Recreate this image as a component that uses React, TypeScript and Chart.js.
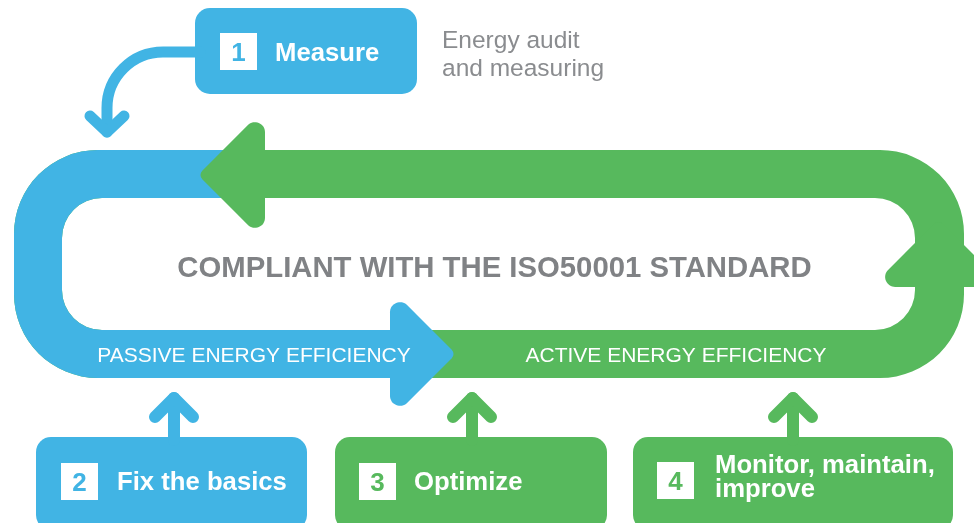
import React, { useEffect, useRef } from 'react';
import { Chart, registerables } from 'chart.js';

Chart.register(...registerables);

// ---------- content ----------
const stepNumbers = ['1', '2', '3', '4'];
const stepTitles = [['Measure'], ['Fix the basics'], ['Optimize'], ['Monitor, maintain,', 'improve']];
const stepPhase = ['passive', 'passive', 'active', 'active'];
const noteLines = ['Energy audit', 'and measuring'];
const centerTitle = 'COMPLIANT WITH THE ISO50001 STANDARD';
const phaseLabels = ['PASSIVE ENERGY EFFICIENCY', 'ACTIVE ENERGY EFFICIENCY'];

// ---------- layout (in data units of the hidden linear scales) ----------
const stepBoxX0 = [195, 36, 335, 633];
const stepBoxX1 = [417, 307, 607, 953];
const stepBoxY0 = [8, 437, 437, 437];
const stepBoxY1 = [94, 530, 530, 530];
const stepSquareX = [220, 61, 359, 657];
const stepSquareY = [33, 463, 463, 462];
const stepTextX = [275, 117, 414, 715];
const stepTextBase = [61, 490, 490, 473];
const upArrowX = [174, 472, 793];

const FONT = "'Liberation Sans', Arial, Helvetica, sans-serif";
const BLUE = '#41B4E4';
const GREEN = '#57B95D';
const GRAY = '#808285';
const NOTE_GRAY = '#8A8C8F';

function roundRectPath(ctx: CanvasRenderingContext2D, x0: number, y0: number, x1: number, y1: number, r: number) {
  ctx.moveTo(x0 + r, y0);
  ctx.lineTo(x1 - r, y0);
  ctx.arcTo(x1, y0, x1, y0 + r, r);
  ctx.lineTo(x1, y1 - r);
  ctx.arcTo(x1, y1, x1 - r, y1, r);
  ctx.lineTo(x0 + r, y1);
  ctx.arcTo(x0, y1, x0, y1 - r, r);
  ctx.lineTo(x0, y0 + r);
  ctx.arcTo(x0, y0, x0 + r, y0, r);
  ctx.closePath();
}

function roundPoly(ctx: CanvasRenderingContext2D, pts: number[][], radii: number[]) {
  const n = pts.length;
  const last = pts[n - 1];
  const first = pts[0];
  ctx.beginPath();
  ctx.moveTo((last[0] + first[0]) / 2, (last[1] + first[1]) / 2);
  for (let i = 0; i < n; i++) {
    const p = pts[i];
    const q = pts[(i + 1) % n];
    ctx.arcTo(p[0], p[1], (p[0] + q[0]) / 2, (p[1] + q[1]) / 2, radii[i]);
  }
  ctx.closePath();
}

const diagramPlugin = {
  id: 'diagram',
  afterDatasetsDraw(chart: any) {
    const ctx: CanvasRenderingContext2D = chart.ctx;
    const xs = chart.scales.x;
    const ys = chart.scales.y;
    const X = (v: number) => xs.getPixelForValue(v);
    const Y = (v: number) => ys.getPixelForValue(v);
    ctx.save();

    // ---- loop band ----
    const ringPath = () => {
      ctx.beginPath();
      roundRectPath(ctx, X(14), Y(150), X(964), Y(378), 84);
      roundRectPath(ctx, X(62), Y(198), X(915), Y(330), 40);
    };
    ctx.fillStyle = GREEN;
    ringPath();
    ctx.fill('evenodd');
    ctx.save();
    ctx.beginPath();
    ctx.rect(X(0), Y(0), X(240) - X(0), Y(264) - Y(0));
    ctx.rect(X(0), Y(264), X(420) - X(0), Y(523) - Y(264));
    ctx.clip();
    ctx.fillStyle = BLUE;
    ringPath();
    ctx.fill('evenodd');
    ctx.restore();

    // arrowheads on the band
    ctx.fillStyle = GREEN;
    roundPoly(ctx, [[X(198), Y(175)], [X(265), Y(108)], [X(265), Y(242)]], [6, 10, 10]);
    ctx.fill();
    roundPoly(ctx, [[X(938.5), Y(219.5)], [X(1006), Y(287)], [X(871), Y(287)]], [6, 10, 10]);
    ctx.fill();
    ctx.fillStyle = BLUE;
    roundPoly(ctx, [[X(456), Y(354)], [X(390), Y(420)], [X(390), Y(288)]], [6, 10, 10]);
    ctx.fill();

    // ---- texts in loop ----
    ctx.textAlign = 'center';
    ctx.textBaseline = 'alphabetic';
    ctx.fillStyle = GRAY;
    ctx.font = `bold 29.3px ${FONT}`;
    ctx.fillText(centerTitle, X(494.5), Y(277));
    ctx.fillStyle = '#ffffff';
    ctx.font = `21px ${FONT}`;
    ctx.fillText(phaseLabels[0], X(254), Y(362));
    ctx.fillText(phaseLabels[1], X(676), Y(362));

    // ---- step boxes ----
    for (let i = 0; i < stepNumbers.length; i++) {
      const col = stepPhase[i] === 'passive' ? BLUE : GREEN;
      ctx.fillStyle = col;
      ctx.beginPath();
      roundRectPath(ctx, X(stepBoxX0[i]), Y(stepBoxY0[i]), X(stepBoxX1[i]), Y(stepBoxY1[i]), 15);
      ctx.fill();
      // number square
      const sx = stepSquareX[i];
      const sy = stepSquareY[i];
      ctx.fillStyle = '#ffffff';
      ctx.fillRect(X(sx), Y(sy), X(sx + 37) - X(sx), Y(sy + 37) - Y(sy));
      ctx.fillStyle = col;
      ctx.font = `bold 26px ${FONT}`;
      ctx.textAlign = 'center';
      ctx.fillText(stepNumbers[i], X(sx + 18.5), Y(sy + 18.5 + 9.3));
      // title
      ctx.fillStyle = '#ffffff';
      ctx.textAlign = 'left';
      ctx.font = `bold 25.7px ${FONT}`;
      const lines = stepTitles[i];
      for (let k = 0; k < lines.length; k++) {
        ctx.fillText(lines[k], X(stepTextX[i]), Y(stepTextBase[i] + k * 24));
      }
    }

    // ---- connector arrows ----
    ctx.lineCap = 'round';
    ctx.lineJoin = 'round';
    ctx.strokeStyle = BLUE;
    ctx.lineWidth = 11;
    ctx.beginPath();
    ctx.moveTo(X(200), Y(52));
    ctx.lineTo(X(163), Y(52));
    ctx.arc(X(163), Y(108), X(56) - X(0), -Math.PI / 2, Math.PI, true);
    ctx.lineTo(X(107), Y(132));
    ctx.stroke();
    ctx.beginPath();
    ctx.moveTo(X(90), Y(116));
    ctx.lineTo(X(107), Y(132));
    ctx.lineTo(X(124), Y(116));
    ctx.stroke();

    ctx.lineWidth = 12;
    for (let j = 0; j < upArrowX.length; j++) {
      const ax = upArrowX[j];
      ctx.strokeStyle = stepPhase[j + 1] === 'passive' ? BLUE : GREEN;
      ctx.beginPath();
      ctx.moveTo(X(ax), Y(440));
      ctx.lineTo(X(ax), Y(398));
      ctx.stroke();
      ctx.beginPath();
      ctx.moveTo(X(ax - 19), Y(417));
      ctx.lineTo(X(ax), Y(398));
      ctx.lineTo(X(ax + 19), Y(417));
      ctx.stroke();
    }

    // ---- note ----
    ctx.fillStyle = NOTE_GRAY;
    ctx.font = `24.5px ${FONT}`;
    ctx.textAlign = 'left';
    ctx.fillText(noteLines[0], X(442), Y(48));
    ctx.fillText(noteLines[1], X(442), Y(76));

    ctx.restore();
  },
};

export default function App() {
  const canvasRef = useRef<HTMLCanvasElement | null>(null);

  useEffect(() => {
    const canvas = canvasRef.current;
    if (!canvas) return;
    const chart = new Chart(canvas, {
      type: 'scatter',
      data: {
        datasets: [
          {
            data: stepNumbers.map((_, i) => ({
              x: (stepBoxX0[i] + stepBoxX1[i]) / 2,
              y: (stepBoxY0[i] + stepBoxY1[i]) / 2,
            })),
            pointRadius: 0,
          },
        ],
      },
      options: {
        animation: false,
        responsive: false,
        events: [],
        layout: { padding: 0 },
        plugins: { legend: { display: false }, tooltip: { enabled: false } },
        scales: {
          x: { type: 'linear', min: 0, max: 974, display: false },
          y: { type: 'linear', min: 0, max: 523, reverse: true, display: false },
        },
      },
      plugins: [diagramPlugin],
    });
    return () => chart.destroy();
  }, []);

  return (
    <div style={{ position: 'fixed', left: 0, top: 0, width: 974, height: 523, background: '#ffffff', overflow: 'hidden' }}>
      <canvas ref={canvasRef} width={974} height={523} style={{ display: 'block' }} />
    </div>
  );
}
